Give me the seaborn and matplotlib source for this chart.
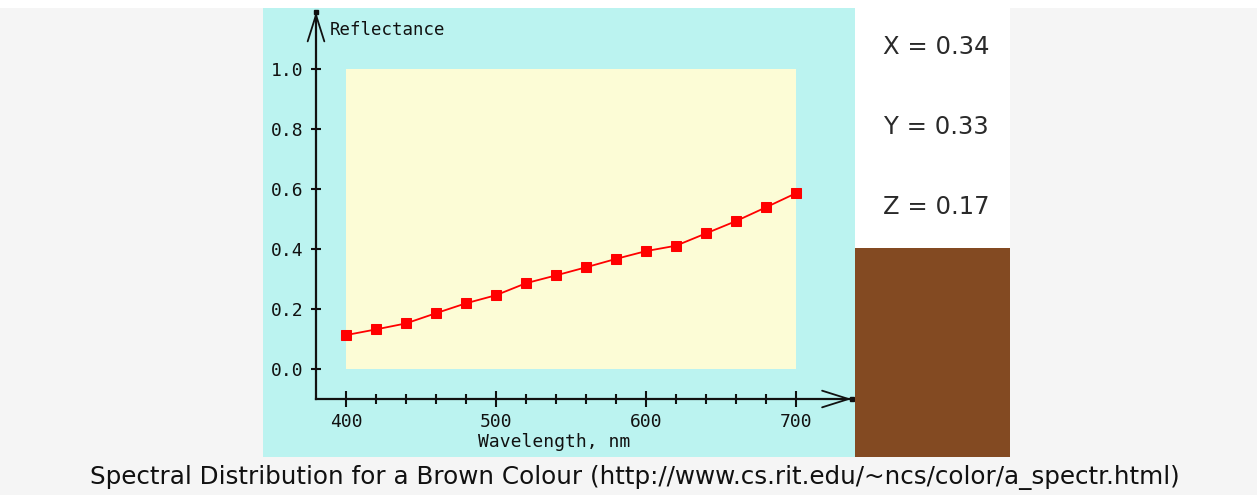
#!/usr/bin/env python3
"""Spectral reflectance curve of a brown colour, with its XYZ values and swatch."""

import matplotlib.pyplot as plt
from matplotlib.patches import Rectangle
import seaborn as sns

# data
wavelengths = [400, 420, 440, 460, 480, 500, 520, 540, 560, 580, 600, 620, 640, 660, 680, 700]
reflectance = [0.113, 0.132, 0.152, 0.186, 0.219, 0.246, 0.286, 0.312,
               0.339, 0.367, 0.393, 0.411, 0.452, 0.493, 0.539, 0.586]
y_ticks = [0.0, 0.2, 0.4, 0.6, 0.8, 1.0]
x_major = [400, 500, 600, 700]
x_minor = list(range(400, 701, 20))
xyz_labels = ["X", "Y", "Z"]
xyz_values = [0.34, 0.33, 0.17]
caption = "Spectral Distribution for a Brown Colour (http://www.cs.rit.edu/~ncs/color/a_spectr.html)"

CYAN = "#bbf3f0"
YELLOW = "#fcfcd6"
BROWN = "#834a22"
INK = "#111111"
W, H = 1257, 495

sns.set_style("ticks")
plt.rcParams["font.family"] = ["DejaVu Sans"]

fig = plt.figure(figsize=(W / 100, H / 100), dpi=100, facecolor="#f5f5f5")


def fig_rect(x0, y0, x1, y1, color):
    # pixel box (top-left origin) -> figure-fraction rectangle
    fig.patches.append(Rectangle((x0 / W, 1 - y1 / H), (x1 - x0) / W, (y1 - y0) / H,
                                 transform=fig.transFigure, facecolor=color,
                                 edgecolor="none", zorder=0))


fig_rect(0, 0, W, 8, "white")
fig_rect(855, 8, 1010, 248, "white")
fig_rect(855, 248, 1010, 457, BROWN)

ax = fig.add_axes([263 / W, 1 - 457 / H, (855 - 263) / W, (457 - 8) / H])
ax.set_facecolor(CYAN)
ax.set_xlim(344.67, 739.33)
ax.set_ylim(-0.2933, 1.2033)

# pale yellow plotting field
ax.add_patch(Rectangle((wavelengths[0], 0), wavelengths[-1] - wavelengths[0], 1.0,
                       facecolor=YELLOW, edgecolor="none", zorder=0))

sns.lineplot(x=wavelengths, y=reflectance, ax=ax, color="red", linewidth=1.3,
             marker="s", markersize=7, markeredgecolor="red", zorder=3)

# axes drawn as arrows crossing at (380, -0.1)
for side in ["top", "right"]:
    ax.spines[side].set_visible(False)
ax.spines["left"].set_position(("data", 380))
ax.spines["bottom"].set_position(("data", -0.1))
ax.spines["left"].set_bounds(-0.1, 1.19)
ax.spines["bottom"].set_bounds(380, 737)
for side in ["left", "bottom"]:
    ax.spines[side].set_linewidth(1.6)
    ax.spines[side].set_color(INK)

arrow = dict(arrowstyle="->,head_length=1.9,head_width=0.6", color=INK, lw=1.3,
             shrinkA=0, shrinkB=0)
ax.annotate("", xy=(380, 1.19), xytext=(380, 1.0), arrowprops=arrow, annotation_clip=False)
ax.annotate("", xy=(737, -0.1), xytext=(700, -0.1), arrowprops=arrow, annotation_clip=False)
ax.plot([380, 737], [1.19, -0.1], ls="none", marker="s", ms=3, color=INK, clip_on=False)

ax.set_yticks(y_ticks)
ax.set_yticklabels([f"{v:.1f}" for v in y_ticks])
ax.set_xticks(x_major)
ax.set_xticklabels([str(v) for v in x_major])
ax.set_xticks([v for v in x_minor if v not in x_major], minor=True)
ax.tick_params(axis="y", direction="inout", length=6.5, width=1.5, color=INK,
               pad=6, labelsize=13, labelcolor=INK)
ax.tick_params(axis="x", which="major", direction="inout", length=11.5, width=1.5,
               color=INK, pad=4, labelsize=13, labelcolor=INK)
ax.tick_params(axis="x", which="minor", direction="inout", length=6.5, width=1.5, color=INK)
for lab in ax.get_xticklabels() + ax.get_yticklabels():
    lab.set_family("DejaVu Sans Mono")

ax.text(389, 1.13, "Reflectance", family="DejaVu Sans Mono", fontsize=12.5,
        color=INK, ha="left", va="center")
ax.text(539, -0.243, "Wavelength, nm", family="DejaVu Sans Mono", fontsize=13,
        color=INK, ha="center", va="center")
ax.set_xlabel("")
ax.set_ylabel("")

for i, (lab, val) in enumerate(zip(xyz_labels, xyz_values)):
    fig.text(936 / W, 1 - (47 + 80 * i) / H, f"{lab} = {val:.2f}", fontsize=17.5,
             color="#2a2a2a", ha="center", va="center")

fig.text(635 / W, 1 - 478 / H, caption, fontsize=17.7, color="#111111",
         ha="center", va="center")

fig.savefig("out.png", dpi=100, facecolor=fig.get_facecolor())
